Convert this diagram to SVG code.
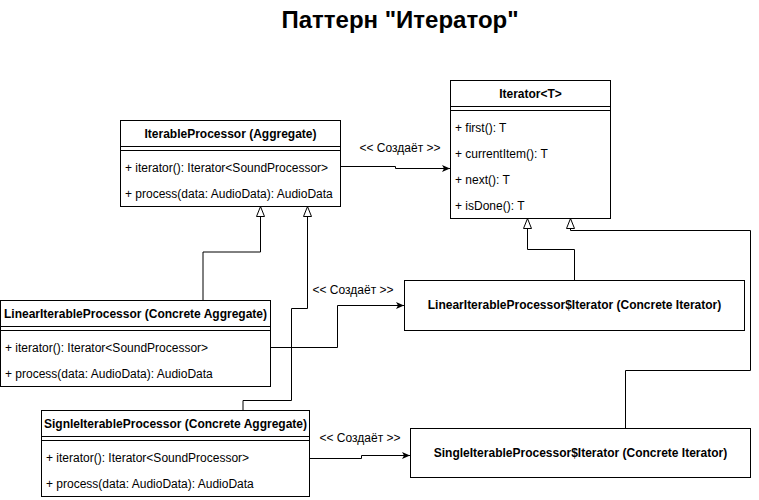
<svg xmlns="http://www.w3.org/2000/svg" width="759" height="500" viewBox="0 0 759 500">
<style>
.box{fill:#fff;stroke:#000;stroke-width:1}
.ln{stroke:#000;stroke-width:1;fill:none}
.t{font-family:"Liberation Sans",Arial,sans-serif;font-size:12px;fill:#000}
.b{font-weight:bold}
.c{text-anchor:middle}
.title{font-family:"Liberation Sans",Arial,sans-serif;font-size:24px;font-weight:bold;text-anchor:middle;fill:#000}
.gen{marker-end:url(#tri)}
.dep{marker-end:url(#arr)}
</style>
<defs>
<marker id="tri" viewBox="-1 -1 12 10" refX="10" refY="4" markerWidth="12" markerHeight="10" markerUnits="userSpaceOnUse" orient="auto">
<path d="M0,0 L10,4 L0,8 Z" fill="#fff" stroke="#000" stroke-width="1"/>
</marker>
<marker id="arr" viewBox="0 0 8 7" refX="8" refY="3.5" markerWidth="8" markerHeight="7" markerUnits="userSpaceOnUse" orient="auto">
<path d="M0,0 L8,3.5 L0,7 L2,3.5 Z" fill="#000"/>
</marker>
</defs>
<text class="title" x="400" y="28">Паттерн "Итератор"</text>
<g id="connectors">
<path class="ln dep" d="M340.5,166.5 H395.5 V168.5 H450"/>
<text class="t c" x="400" y="152">&lt;&lt; Создаёт &gt;&gt;</text>
<path class="ln gen" d="M203,300 V252 H260.5 V206.5"/>
<path class="ln gen" d="M243,410 V400.5 H291.5 V308.5 H307.5 V206.5"/>
<path class="ln dep" d="M270.5,347.5 H337.5 V305.5 H404"/>
<text class="t c" x="353" y="294">&lt;&lt; Создаёт &gt;&gt;</text>
<path class="ln dep" d="M309.5,458.5 H361.5 V455.5 H410"/>
<text class="t c" x="360" y="442">&lt;&lt; Создаёт &gt;&gt;</text>
<path class="ln gen" d="M574.5,280.5 V249.5 H527.5 V218.5"/>
<path class="ln gen" d="M625.5,428.5 V370.5 H750.5 V230.5 H570.5 V218.5"/>
</g>
<g id="iterable-processor">
<rect class="box" x="120.5" y="120.5" width="220" height="86"/>
<path class="ln" d="M120.5,146.5 H340.5 M120.5,150.5 H340.5"/>
<text class="t b c" x="230.5" y="137.5">IterableProcessor (Aggregate)</text>
<text class="t" x="125" y="171.5">+ iterator(): Iterator&lt;SoundProcessor&gt;</text>
<text class="t" x="125" y="197.5">+ process(data: AudioData): AudioData</text>
</g>
<g id="iterator">
<rect class="box" x="450.5" y="80.5" width="160" height="138"/>
<path class="ln" d="M450.5,106.5 H610.5 M450.5,110.5 H610.5"/>
<text class="t b c" x="530.5" y="97.5">Iterator&lt;T&gt;</text>
<text class="t" x="455" y="131.5">+ first(): T</text>
<text class="t" x="455" y="157.5">+ currentItem(): T</text>
<text class="t" x="455" y="183.5">+ next(): T</text>
<text class="t" x="455" y="209.5">+ isDone(): T</text>
</g>
<g id="linear-iterable-processor">
<rect class="box" x="0.5" y="300.5" width="270" height="86"/>
<path class="ln" d="M0.5,326.5 H270.5 M0.5,330.5 H270.5"/>
<text class="t b c" x="135.5" y="317.5">LinearIterableProcessor (Concrete Aggregate)</text>
<text class="t" x="5" y="351.5">+ iterator(): Iterator&lt;SoundProcessor&gt;</text>
<text class="t" x="5" y="377.5">+ process(data: AudioData): AudioData</text>
</g>
<g id="single-iterable-processor">
<rect class="box" x="41.5" y="410.5" width="268" height="86"/>
<path class="ln" d="M41.5,436.5 H309.5 M41.5,440.5 H309.5"/>
<text class="t b c" x="175.5" y="427.5">SignleIterableProcessor (Concrete Aggregate)</text>
<text class="t" x="46" y="461.5">+ iterator(): Iterator&lt;SoundProcessor&gt;</text>
<text class="t" x="46" y="487.5">+ process(data: AudioData): AudioData</text>
</g>
<g id="linear-iterator">
<rect class="box" x="404.5" y="280.5" width="340" height="50"/>
<text class="t b c" x="574.5" y="309">LinearIterableProcessor$Iterator (Concrete Iterator)</text>
</g>
<g id="single-iterator">
<rect class="box" x="410.5" y="428.5" width="340" height="49"/>
<text class="t b c" x="580.5" y="457">SingleIterableProcessor$Iterator (Concrete Iterator)</text>
</g>
</svg>
